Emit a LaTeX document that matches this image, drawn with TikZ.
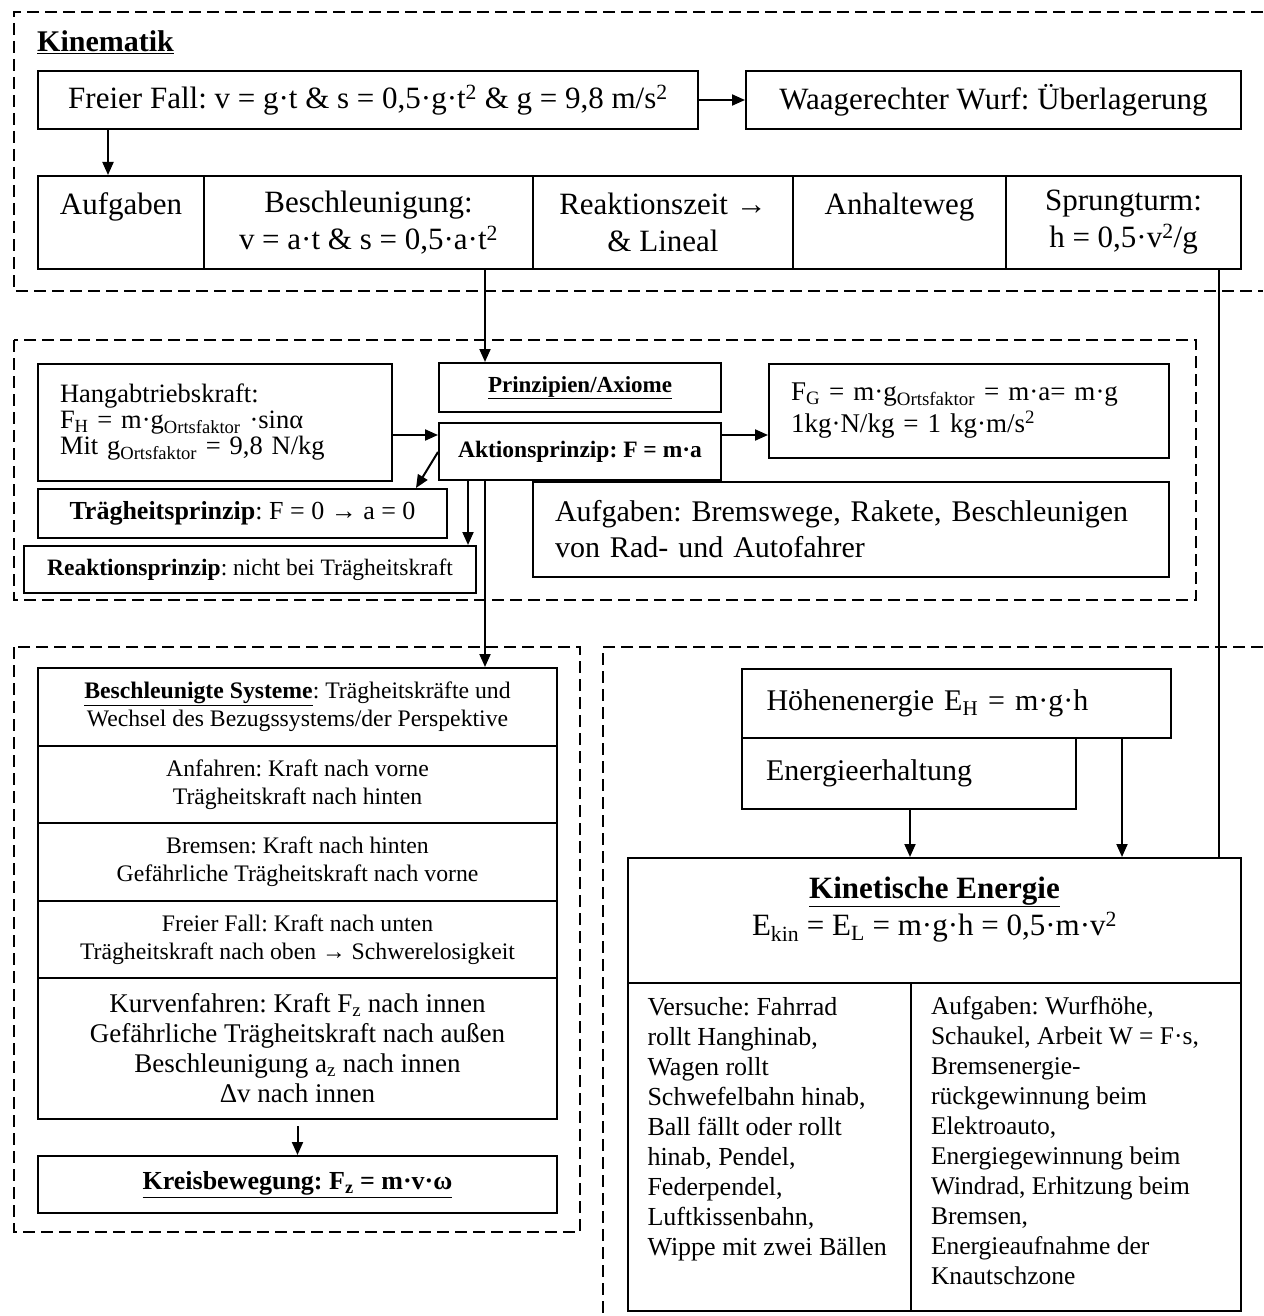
\documentclass[tikz,border=0pt]{standalone}
\usepackage{fontspec}
\setmainfont{Liberation Serif}
\usetikzlibrary{arrows.meta}
\frenchspacing

\tikzset{
  box/.style={draw, line width=2pt, inner sep=0pt, anchor=north west, align=center},
  frame/.style={draw, line width=1.8pt, dash pattern=on 12pt off 6pt},
  arr/.style={-{Triangle[length=13pt,width=11pt]}, line width=2pt},
  link/.style={line width=2pt},
  bigtext/.style={font=\fontsize{31}{37}\selectfont},
  midtext/.style={font=\fontsize{27}{32}\selectfont},
  smalltext/.style={font=\fontsize{23.7}{28}\selectfont},
}

\begin{document}
\begin{tikzpicture}[x=1pt,y=-1pt]
  \useasboundingbox (0,0) rectangle (1263,1316);

  % dashed frames
  \draw[frame] (1263,12) -- (14,12) -- (14,291) -- (1263,291);
  \draw[frame] (14,340) rectangle (1196,600);
  \draw[frame] (14,647) rectangle (580,1232);
  \draw[frame] (1263,647) -- (603,647) -- (603,1316);

  % Kinematik
  \node[anchor=south west, inner sep=0pt, font=\fontsize{30}{34}\selectfont\bfseries] (kin) at (37,54) {\underline{Kinematik}};
  \node[box, bigtext, minimum width=660pt, minimum height=58pt] (fall) at (37,70)
    {Freier Fall: v = g·t \& s = 0,5·g·t\textsuperscript{2} \& g = 9,8 m/s\textsuperscript{2}};
  \node[box, bigtext, minimum width=495pt, minimum height=58pt] (wurf) at (745,70)
    {Waagerechter Wurf: Überlagerung};

  \begin{scope}[every node/.style={box, bigtext, minimum height=93pt}]
    \node[minimum width=166pt] (aufg) at (37,175) {Aufgaben\\ \mbox{}};
    \node[minimum width=329pt] (beschl) at (203,175) {Beschleunigung:\\ v = a·t \& s = 0,5·a·t\textsuperscript{2}};
    \node[minimum width=260pt] (reakz) at (532,175) {Reaktionszeit →\\ \& Lineal};
    \node[minimum width=213pt] (anhalt) at (792,175) {Anhalteweg\\ \mbox{}};
    \node[minimum width=235pt] (sprung) at (1005,175) {Sprungturm:\\ h = 0,5·v\textsuperscript{2}/g};
  \end{scope}

  % Prinzipien
  \node[box, minimum width=282pt, minimum height=49pt, font=\fontsize{23}{27}\selectfont\bfseries] (prinz) at (438,362)
    {\underline{Prinzipien/Axiome}};
  \node[box, minimum width=282pt, minimum height=57pt, font=\fontsize{23.5}{27}\selectfont\bfseries] (aktion) at (438,422)
    {Aktionsprinzip: F = m·a};
  \node[box, font=\fontsize{26.5}{26}\selectfont, minimum width=354pt, minimum height=117pt, text width=310pt, align=left] (hang) at (37,363)
    {Hangabtriebskraft:\\ F\textsubscript{H} = m·g\textsubscript{Ortsfaktor} ·sinα\\ Mit g\textsubscript{Ortsfaktor} = 9,8 N/kg};
  \node[box, midtext, minimum width=400pt, minimum height=94pt, text width=356pt, align=left] (fg) at (768,363)
    {F\textsubscript{G} = m·g\textsubscript{Ortsfaktor} = m·a= m·g\\ 1kg·N/kg = 1 kg·m/s\textsuperscript{2}};
  \node[box, font=\fontsize{30}{36}\selectfont, minimum width=636pt, minimum height=95pt, text width=592pt, align=left] (aufgkr) at (532,481)
    {Aufgaben: Bremswege, Rakete, Beschleunigen\\ von Rad- und Autofahrer};
  \node[box, font=\fontsize{26}{30}\selectfont, minimum width=409pt, minimum height=49pt] (traeg) at (37,488)
    {\textbf{Trägheitsprinzip}: F = 0 → a = 0};
  \node[box, font=\fontsize{23.5}{27}\selectfont, minimum width=452pt, minimum height=47pt] (reakt) at (23,545)
    {\textbf{Reaktionsprinzip}: nicht bei Trägheitskraft};

  % beschleunigte Systeme
  \begin{scope}[every node/.style={box, smalltext, minimum width=519pt}]
    \node[minimum height=78pt] (sys) at (37,667) {\underline{\textbf{Beschleunigte Systeme}}: Trägheitskräfte und\\ Wechsel des Bezugssystems/der Perspektive};
    \node[minimum height=77pt] (anf) at (37,745) {Anfahren: Kraft nach vorne\\ Trägheitskraft nach hinten};
    \node[minimum height=78pt] (brems) at (37,822) {Bremsen: Kraft nach hinten\\ Gefährliche Trägheitskraft nach vorne};
    \node[minimum height=77pt] (frei) at (37,900) {Freier Fall: Kraft nach unten\\ Trägheitskraft nach oben → Schwerelosigkeit};
    \node[minimum height=141pt, font=\fontsize{27}{30}\selectfont] (kurve) at (37,977) {Kurvenfahren: Kraft F\textsubscript{z} nach innen\\ Gefährliche Trägheitskraft nach außen\\ Beschleunigung a\textsubscript{z} nach innen\\ Δv nach innen};
    \node[minimum height=57pt, font=\fontsize{26}{30}\selectfont\bfseries] (kreis) at (37,1155) {\underline{Kreisbewegung: F\textsubscript{z} = m·v·ω}};
  \end{scope}

  % Energie
  \node[box, font=\fontsize{30}{36}\selectfont, minimum width=429pt, minimum height=69pt, text width=380pt, align=left] (hoehe) at (741,668)
    {Höhenenergie E\textsubscript{H} = m·g·h};
  \node[box, font=\fontsize{30}{36}\selectfont, minimum width=334pt, minimum height=71pt, text width=286pt, align=left] (erhalt) at (741,737)
    {Energieerhaltung};
  \node[box, bigtext, minimum width=613pt, minimum height=125pt] (keh) at (627,857)
    {\textbf{\underline{Kinetische Energie}}\\ E\textsubscript{kin} = E\textsubscript{L} = m·g·h = 0,5·m·v\textsuperscript{2}\\[-8pt] \mbox{}};
  \node[box, minimum width=283pt, minimum height=328pt] (vers) at (627,982)
    {\begin{minipage}[t][300pt][t]{244pt}\fontsize{26}{30}\selectfont\raggedright
      Versuche: Fahrrad\\ rollt Hanghinab,\\ Wagen rollt\\ Schwefelbahn hinab,\\ Ball fällt oder rollt\\ hinab, Pendel,\\ Federpendel,\\ Luftkissenbahn,\\ Wippe mit zwei Bällen
    \end{minipage}};
  \node[box, minimum width=330pt, minimum height=328pt] (aufgen) at (910,982)
    {\begin{minipage}[t][300pt][t]{290pt}\fontsize{25.5}{30}\selectfont\raggedright
      Aufgaben: Wurfhöhe,\\ Schaukel, Arbeit W = F·s,\\ Bremsenergie-\\ rückgewinnung beim\\ Elektroauto,\\ Energiegewinnung beim\\ Windrad, Erhitzung beim\\ Bremsen,\\ Energieaufnahme der\\ Knautschzone
    \end{minipage}};

  % connectors
  \draw[arr] ([xshift=71pt]fall.south west) -- ([xshift=71pt]aufg.north west);
  \draw[arr] (fall) -- (wurf);
  \coordinate (p1) at ([xshift=47pt]prinz.north west);
  \draw[arr] (p1 |- beschl.south) -- (p1);
  \coordinate (s1) at ([xshift=-23pt]sprung.south east);
  \draw[link] (s1) -- (s1 |- keh.north);

  \coordinate (ain) at ([yshift=-13pt]aktion.north west);
  \coordinate (aout) at ([yshift=-13pt]aktion.north east);
  \draw[arr] (ain -| hang.east) -- (ain);
  \draw[arr] (aout) -- (aout -| fg.west);
  \draw[arr] ([yshift=-30pt]aktion.north west) -- ([xshift=-32pt]traeg.north east);
  \coordinate (a1) at ([xshift=30pt]aktion.south west);
  \draw[arr] (a1) -- (a1 |- reakt.north);
  \coordinate (a2) at ([xshift=47pt]aktion.south west);
  \draw[arr] (a2) -- (a2 |- sys.north);

  \draw[arr] ([yshift=-6pt]kurve.south) -- (kreis.north);

  \coordinate (e1) at ([xshift=169pt]erhalt.south west);
  \draw[arr] (e1) -- (e1 |- keh.north);
  \coordinate (e2) at ([xshift=-50pt]hoehe.south east);
  \draw[arr] (e2) -- (e2 |- keh.north);
\end{tikzpicture}
\end{document}
